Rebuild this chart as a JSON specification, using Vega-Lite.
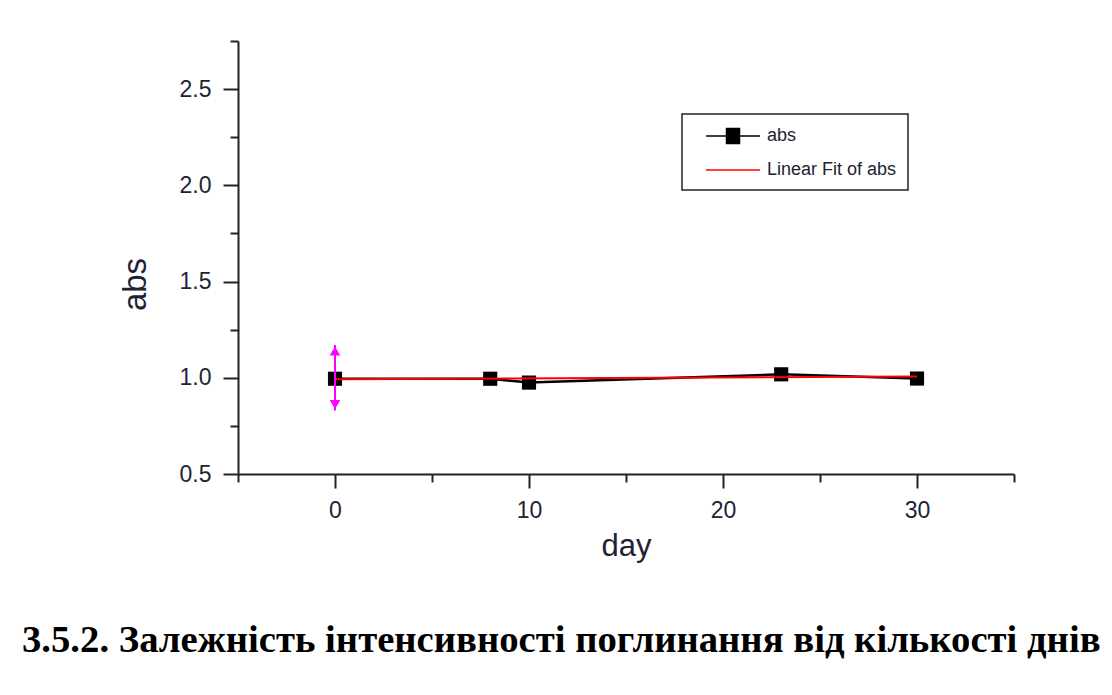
{
  "$schema": "https://vega.github.io/schema/vega-lite/v6.json",
  "width": 776,
  "height": 433,
  "autosize": {"type": "none"},
  "padding": {"left": 238, "top": 41, "right": 98, "bottom": 221},
  "background": "white",
  "config": {
    "view": {"stroke": null},
    "font": "Liberation Sans",
    "legend": {"strokeWidth": 1.5}
  },
  "title": {
    "text": "3.5.2. Залежність інтенсивності поглинання від кількості днів",
    "orient": "bottom",
    "anchor": "start",
    "frame": "group",
    "font": "Liberation Serif",
    "fontSize": 38.7,
    "fontWeight": "bold",
    "color": "black",
    "dx": -216,
    "offset": 60
  },
  "datasets": {
    "measured": [
      {"day": 0, "abs": 0.995},
      {"day": 8, "abs": 0.995},
      {"day": 10, "abs": 0.975},
      {"day": 23, "abs": 1.018},
      {"day": 30, "abs": 0.996}
    ],
    "fit": [
      {"day": 0, "abs": 0.992},
      {"day": 30, "abs": 1.006}
    ],
    "errors": [
      {"day": 0, "low": 0.83, "high": 1.17}
    ],
    "keys": []
  },
  "layer": [
    {
      "data": {"name": "measured"},
      "mark": {"type": "line", "color": "black", "strokeWidth": 2.5},
      "encoding": {
        "x": {
          "field": "day",
          "type": "quantitative",
          "title": "day",
          "scale": {"domain": [-5, 35], "nice": false, "zero": false},
          "axis": {
            "values": [-5, 0, 5, 10, 15, 20, 25, 30, 35],
            "tickSize": {"condition": {"test": "datum.value % 10 === 0", "value": 14}, "value": 8},
            "labelExpr": "datum.value % 10 === 0 ? datum.label : ''",
            "labelOverlap": false,
            "labelFlush": false,
            "grid": false,
            "domainColor": "#222222",
            "domainWidth": 2,
            "tickColor": "#222222",
            "tickWidth": 2,
            "labelFont": "Liberation Sans",
            "labelFontSize": 23,
            "labelColor": "#222233",
            "labelPadding": 11,
            "titleFont": "Liberation Sans",
            "titleFontSize": 31,
            "titleFontWeight": "normal",
            "titleColor": "#222233",
            "titlePadding": 9
          }
        },
        "y": {
          "field": "abs",
          "type": "quantitative",
          "title": "abs",
          "scale": {"domain": [0.5, 2.75], "nice": false, "zero": false},
          "axis": {
            "values": [0.5, 0.75, 1.0, 1.25, 1.5, 1.75, 2.0, 2.25, 2.5, 2.75],
            "format": ".1f",
            "tickSize": {"condition": {"test": "(datum.value * 2) % 1 === 0", "value": 15}, "value": 8},
            "labelExpr": "(datum.value * 2) % 1 === 0 ? datum.label : ''",
            "labelOverlap": false,
            "labelFlush": false,
            "grid": false,
            "domainColor": "#222222",
            "domainWidth": 2,
            "tickColor": "#222222",
            "tickWidth": 2,
            "labelFont": "Liberation Sans",
            "labelFontSize": 23,
            "labelColor": "#222233",
            "labelPadding": 12,
            "titleFont": "Liberation Sans",
            "titleFontSize": 33,
            "titleFontWeight": "normal",
            "titleColor": "#222233",
            "titlePadding": 27,
            "titleY": 243
          }
        }
      }
    },
    {
      "data": {"name": "measured"},
      "mark": {"type": "point", "shape": "square", "filled": true, "size": 200, "opacity": 1, "color": "black"},
      "encoding": {
        "x": {"field": "day", "type": "quantitative", "title": "day"},
        "y": {"field": "abs", "type": "quantitative", "title": "abs"}
      }
    },
    {
      "data": {"name": "fit"},
      "mark": {"type": "line", "strokeWidth": 2, "color": "#ff0000"},
      "encoding": {
        "x": {"field": "day", "type": "quantitative", "title": "day"},
        "y": {"field": "abs", "type": "quantitative", "title": "abs"}
      }
    },
    {
      "data": {"name": "errors"},
      "mark": {"type": "rule", "color": "#ff00ff", "strokeWidth": 2},
      "encoding": {
        "x": {"field": "day", "type": "quantitative", "title": "day"},
        "y": {"field": "low", "type": "quantitative", "title": "abs"},
        "y2": {"field": "high"}
      }
    },
    {
      "data": {"name": "errors"},
      "mark": {"type": "point", "shape": "triangle-up", "filled": true, "color": "#ff00ff", "size": 110, "opacity": 1, "yOffset": 6},
      "encoding": {
        "x": {"field": "day", "type": "quantitative", "title": "day"},
        "y": {"field": "high", "type": "quantitative", "title": "abs"}
      }
    },
    {
      "data": {"name": "errors"},
      "mark": {"type": "point", "shape": "triangle-down", "filled": true, "color": "#ff00ff", "size": 110, "opacity": 1, "yOffset": -6},
      "encoding": {
        "x": {"field": "day", "type": "quantitative", "title": "day"},
        "y": {"field": "low", "type": "quantitative", "title": "abs"}
      }
    },
    {
      "data": {"name": "keys"},
      "mark": {"type": "point", "filled": true, "strokeWidth": 1.5, "opacity": 1},
      "encoding": {
        "x": {"field": "day", "type": "quantitative", "title": "day"},
        "y": {"field": "abs", "type": "quantitative", "title": "abs"},
        "color": {
          "field": "series",
          "type": "nominal",
          "scale": {"domain": ["abs", "Linear Fit of abs"], "range": ["black", "#ff0000"]},
          "legend": {
            "title": null,
            "orient": "none",
            "legendX": 444,
            "legendY": 73,
            "padding": 11,
            "strokeColor": "#222222",
            "fillColor": "white",
            "symbolSize": 400,
            "symbolOffset": 29,
            "symbolStrokeWidth": 1.5,
            "labelOffset": 23,
            "rowPadding": 12,
            "labelFont": "Liberation Sans",
            "labelFontSize": 18,
            "labelColor": "#222233"
          }
        },
        "stroke": {
          "field": "series",
          "type": "nominal",
          "scale": {"domain": ["abs", "Linear Fit of abs"], "range": ["black", "#ff0000"]}
        },
        "shape": {
          "field": "series",
          "type": "nominal",
          "scale": {
            "domain": ["abs", "Linear Fit of abs"],
            "range": ["M-2.7,0H-0.65M0.65,0H2.7M-0.65,-0.75H0.65V0.75H-0.65Z", "M-2.7,0H2.7"]
          }
        }
      }
    }
  ]
}
